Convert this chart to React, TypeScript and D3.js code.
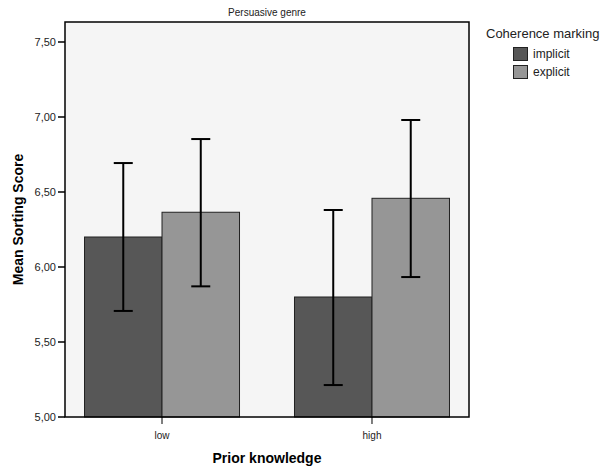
import * as d3 from 'd3';
import React, { useRef, useEffect } from 'react';

// values
const knowledge = ['low', 'high'];
const marking = ['implicit', 'explicit'];
const implicitMean = [6.2, 5.8];
const explicitMean = [6.365, 6.458];
const implicitLow = [5.707, 5.213];
const implicitHigh = [6.693, 6.38];
const explicitLow = [5.871, 5.933];
const explicitHigh = [6.853, 6.98];
const yTicks = [5.0, 5.5, 6.0, 6.5, 7.0, 7.5];
const colors = ['#575757', '#969696'];

function App() {
    const ref = useRef(null);

    useEffect(() => {
        const svg = d3.select(ref.current);
        svg.selectAll('*').remove();
        const font = 'Arial, "Liberation Sans", sans-serif';

        const left = 65, right = 469, top = 22, bottom = 417;
        const y = d3.scaleLinear().domain([5, 7.6333]).range([bottom, top]);
        const x = d3.scalePoint().domain(knowledge).range([left, right]).padding(0.462);
        const barW = 77.5;

        const rows = [];
        knowledge.forEach((k, i) => {
            rows.push({ k, s: 0, mean: implicitMean[i], lo: implicitLow[i], hi: implicitHigh[i] });
            rows.push({ k, s: 1, mean: explicitMean[i], lo: explicitLow[i], hi: explicitHigh[i] });
        });

        svg.append('rect')
            .attr('x', left).attr('y', top)
            .attr('width', right - left).attr('height', bottom - top)
            .attr('fill', '#f5f5f5');

        svg.selectAll('.bar')
            .data(rows)
            .enter()
            .append('rect')
            .attr('x', d => x(d.k) + (d.s - 1) * barW)
            .attr('y', d => y(d.mean))
            .attr('width', barW)
            .attr('height', d => bottom - y(d.mean))
            .attr('fill', d => colors[d.s])
            .attr('stroke', '#222')
            .attr('stroke-width', 1);

        // error bars
        const eb = svg.selectAll('.err').data(rows).enter().append('g')
            .attr('transform', d => 'translate(' + (x(d.k) + (d.s - 0.5) * barW) + ',0)');
        eb.append('line')
            .attr('x1', 0).attr('x2', 0)
            .attr('y1', d => y(d.lo)).attr('y2', d => y(d.hi))
            .attr('stroke', '#000').attr('stroke-width', 2);
        [d => y(d.lo), d => y(d.hi)].forEach(f => {
            eb.append('line')
                .attr('x1', -9.5).attr('x2', 9.5)
                .attr('y1', f).attr('y2', f)
                .attr('stroke', '#000').attr('stroke-width', 2);
        });

        // frame
        svg.append('rect')
            .attr('x', left).attr('y', top)
            .attr('width', right - left).attr('height', bottom - top)
            .attr('fill', 'none')
            .attr('stroke', '#000').attr('stroke-width', 1.5);

        // y axis
        const yg = svg.append('g');
        yTicks.forEach(t => {
            yg.append('line')
                .attr('x1', left - 7).attr('x2', left)
                .attr('y1', y(t)).attr('y2', y(t))
                .attr('stroke', '#000').attr('stroke-width', 1.5);
            yg.append('text')
                .attr('x', left - 9).attr('y', y(t) + 4)
                .attr('text-anchor', 'end')
                .attr('font-family', font).attr('font-size', '11px')
                .attr('fill', '#222')
                .text(d3.format('.2f')(t).replace('.', ','));
        });

        // x axis
        knowledge.forEach(k => {
            svg.append('line')
                .attr('x1', x(k)).attr('x2', x(k))
                .attr('y1', bottom).attr('y2', bottom + 7)
                .attr('stroke', '#000').attr('stroke-width', 1);
            svg.append('text')
                .attr('x', x(k)).attr('y', bottom + 22)
                .attr('text-anchor', 'middle')
                .attr('font-family', font).attr('font-size', '10px')
                .attr('fill', '#222')
                .text(k);
        });

        svg.append('text')
            .attr('x', (left + right) / 2).attr('y', 463)
            .attr('text-anchor', 'middle')
            .attr('font-family', font).attr('font-size', '14px').attr('font-weight', 'bold')
            .text('Prior knowledge');

        svg.append('text')
            .attr('transform', 'translate(23,' + ((top + bottom) / 2) + ') rotate(-90)')
            .attr('text-anchor', 'middle')
            .attr('font-family', font).attr('font-size', '14px').attr('font-weight', 'bold')
            .text('Mean Sorting Score');

        svg.append('text')
            .attr('x', (left + right) / 2).attr('y', 16)
            .attr('text-anchor', 'middle')
            .attr('font-family', font).attr('font-size', '10px')
            .attr('fill', '#222')
            .text('Persuasive genre');

        // legend
        svg.append('text')
            .attr('x', 486).attr('y', 38)
            .attr('font-family', font).attr('font-size', '13px')
            .attr('fill', '#222')
            .text('Coherence marking');
        marking.forEach((m, i) => {
            svg.append('rect')
                .attr('x', 513.5).attr('y', 47.5 + i * 18)
                .attr('width', 14).attr('height', 13)
                .attr('fill', colors[i])
                .attr('stroke', '#222').attr('stroke-width', 1);
            svg.append('text')
                .attr('x', 533).attr('y', 58 + i * 18)
                .attr('font-family', font).attr('font-size', '12px')
                .attr('fill', '#222')
                .text(m);
        });
    }, []);

    return (
        <svg ref={ref} width={603} height={470}
            style={{ position: 'absolute', left: 0, top: 0, background: '#fff' }}>
        </svg>
    );
}

export default App;
